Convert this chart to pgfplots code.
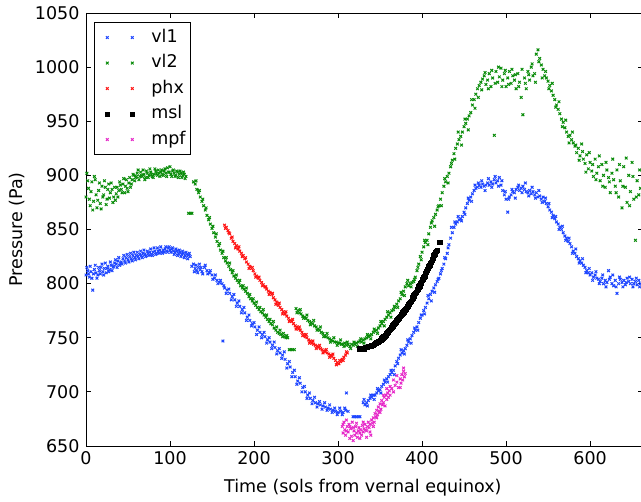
\documentclass[border=0pt]{standalone}
\usepackage{fontspec}
\setmainfont{DejaVu Sans}
\usepackage{pgfplots}
\pgfplotsset{compat=1.18}
\definecolor{cvla}{RGB}{30,70,255}
\definecolor{cvlb}{RGB}{10,140,10}
\definecolor{cphx}{RGB}{255,20,20}
\definecolor{cmpf}{RGB}{230,40,200}
\begin{document}
\begin{tikzpicture}
\path[use as bounding box] (0,0) rectangle (641bp,502bp);
\begin{axis}[
  at={(86bp,56bp)}, anchor=south west,
  scale only axis, width=557bp, height=433bp,
  xmin=0, xmax=663, ymin=650, ymax=1050,
  xtick={0,100,...,600}, ytick={650,700,...,1050},
  /pgf/number format/assume math mode=true,
  /pgf/number format/1000 sep={},
  font=\fontsize{17.5bp}{20bp}\selectfont,
  tick label style={font=\fontsize{17.5bp}{20bp}\selectfont},
  xticklabel style={yshift=-2bp},
  yticklabel style={xshift=-3bp},
  tick align=inside, major tick length=5bp,
  axis line style={line width=0.8bp},
  every tick/.style={black, line width=0.8bp},
  xlabel={Time (sols from vernal equinox)},
  ylabel={Pressure (Pa)},
  xlabel style={at={(axis description cs:0.497,0)}, anchor=center, yshift=-42bp},
  ylabel style={at={(axis description cs:-0.124,0.5)}, anchor=center},
  legend style={at={(rel axis cs:0,1)}, anchor=north west, xshift=8bp, yshift=-9bp,
     draw=black, line width=0.6bp, inner xsep=3bp, inner ysep=5bp, row sep=5bp,
     column sep=0bp,
     nodes={inner sep=2bp, text height=13bp, text depth=3.5bp},
     font=\fontsize{17.5bp}{20bp}\selectfont, cells={anchor=west}},
  legend image code/.code={\path[draw=none, fill=none] (0bp,-2bp) rectangle (52bp,2bp);
     \draw[#1, only marks] plot coordinates {(10bp,0bp) (35bp,0bp)};},
  clip=true,
]
\addplot[only marks, mark=x, mark size=1.9bp, line width=1bp, color=cvla] coordinates {
(0,808) (2,812) (4,806) (6,811) (8,794) (10,813) (12,810) (14,808) (16,812) (18,815) (20,811) (22,814) (24,810) (26,816) (28,813) (30,817) (32,815) (34,819) (36,818) (38,821) (40,817) (42,820) (44,823) (46,821) (48,824) (50,822) (52,825) (54,823) (56,826) (58,824) (60,826) (62,825) (64,827) (66,826) (68,828) (70,827) (72,826) (74,828) (76,829) (78,827) (80,829) (82,830) (84,828) (86,830) (88,831) (90,829) (92,831) (94,832) (96,830) (98,833) (100,831) (102,832) (104,830) (106,829) (108,830) (110,828) (112,829) (114,827) (116,828) (118,826) (120,827) (122,826) (124,825)
(128,818) (130,814) (132,812) (134,815) (136,813) (138,811)
(141,815) (144,812) (147,810) (150,808) (153,805) (156,803) (159,801) (162,800) (163,747) (165,796) (168,794) (171,791) (174,788) (177,785) (180,782) (183,779) (186,776) (189,773) (192,769) (195,766) (198,763) (201,760) (204,757) (207,755) (210,753) (213,751) (216,748) (219,746) (222,743) (225,741) (228,738) (231,736) (234,734) (237,730) (240,726) (243,723) (246,718) (249,714) (252,710) (255,708) (258,704) (261,700) (264,697) (267,694) (270,692) (273,690) (276,689) (279,688) (282,687) (285,686) (288,685) (291,684) (294,683) (297,682) (300,681) (303,682) (306,681) (309,683) (310,699) (312,682)
(318,677) (320,677) (322,677) (324,677) (326,677)
(330,690) (332,688) (334,690) (336,692) (338,694) (340,695) (342,697) (344,697) (346,699) (348,701) (350,702) (352,705) (354,707) (356,709) (358,712) (360,714) (362,716) (364,718) (366,720) (368,724) (370,728) (372,731) (374,734) (376,736) (378,738) (380,740) (382,743) (384,746) (386,749) (388,752) (390,755) (392,757) (394,760) (396,764) (398,768) (400,771) (402,775) (404,778) (406,782) (408,786) (410,790) (412,793) (414,796) (416,799) (418,802) (420,805) (422,809) (424,814) (426,818) (428,823) (430,828) (432,836) (434,842) (436,847) (438,852) (440,855) (442,857) (444,859) (446,860) (448,862) (450,866) (452,870) (454,874) (456,877) (458,880) (460,883) (462,886) (464,888) (466,889) (468,891) (470,889) (472,892) (474,890) (476,891) (478,893) (480,891) (482,894) (484,892) (486,896) (488,893) (490,895) (492,898) (494,891) (496,886) (498,882) (500,878) (502,866) (504,880) (506,882) (508,885) (510,884) (512,887) (514,889) (516,886) (518,888) (520,890) (522,887) (524,885) (526,884) (528,886) (530,883) (532,885) (534,882) (536,884) (538,880) (540,881) (542,878) (544,880) (546,876) (548,874) (550,871) (552,868) (554,866) (556,863) (558,860) (560,857) (562,855) (564,852) (566,850) (568,847) (570,844) (572,842) (574,839) (576,837) (578,834) (580,830) (582,828) (584,825) (586,823) (588,821) (590,819) (592,817) (594,815) (596,812) (598,810) (600,808) (602,810) (604,806) (606,808) (608,805) (610,804) (612,802) (614,805) (616,800) (618,803) (620,801) (622,812) (624,806) (626,800) (628,798) (630,803) (632,791) (634,800) (636,804) (638,801) (640,803) (642,799) (644,805) (646,802) (648,800) (650,804) (652,800) (654,802) (656,799) (658,803) (660,800)
(1,815) (3,809) (5,816) (7,805) (9,809) (11,817) (13,805) (15,815) (17,809) (19,818) (21,808) (23,819) (25,814) (27,811) (29,820) (31,812) (33,816) (35,822) (37,815) (39,824) (41,819) (43,818) (45,826) (47,819) (49,827) (51,820) (53,828) (55,821) (57,829) (59,822) (61,829) (63,823) (65,830) (67,824) (69,831) (71,825) (73,830) (75,826) (77,832) (79,826) (81,833) (83,827) (85,833) (87,828) (89,834) (91,828) (93,829) (95,834) (97,829) (99,834) (101,829) (103,833) (105,827) (107,832) (109,826) (111,831) (113,825) (115,830) (117,824) (119,829) (121,823) (123,828) (126,816) (129,811) (131,817) (133,810) (135,818) (137,815) (139,809) (142,817) (145,809) (148,812) (151,804) (154,808) (157,800) (160,803) (164,798) (167,791) (170,795) (173,785) (176,790) (179,779) (182,784) (185,773) (188,778) (191,766) (194,771) (197,761) (200,764) (203,753) (206,760) (209,750) (212,755) (215,745) (218,750) (221,740) (224,746) (227,735) (230,740) (233,731) (236,737) (239,722) (242,728) (245,714) (248,720) (251,707) (254,713) (257,700) (260,705) (263,694) (266,699) (269,689) (272,695) (275,686) (278,691) (281,684) (284,690) (287,683) (290,688) (293,681) (296,685) (299,679) (302,685) (305,679) (308,685)
(331,693) (335,687) (339,697) (343,693) (347,703) (351,699) (355,711) (359,709) (363,720) (367,716) (371,726) (375,739) (379,735) (383,748) (387,745) (391,759) (395,757) (399,771) (403,772) (407,789) (411,784) (415,792) (419,804) (423,812) (427,824) (431,833) (435,852) (439,857) (443,862) (447,858) (451,864) (455,879) (459,876) (463,891) (467,893) (471,895) (475,886) (479,897) (483,889) (487,899) (491,890) (495,895) (499,885) (503,878) (507,887) (511,879) (515,891) (519,884) (523,893) (527,881) (531,889) (535,879) (539,886) (543,875) (547,879) (551,874) (555,861) (559,862) (563,850) (567,853) (571,840) (575,842) (579,828) (583,832) (587,819) (591,823) (595,810) (599,814) (603,803) (607,811) (611,800) (615,808) (619,797) (623,804) (627,808) (631,797) (635,806) (639,797) (643,801) (647,806) (651,797) (655,805) (659,797)
};
\addlegendentry{vl1}
\addplot[only marks, mark=x, mark size=1.9bp, line width=1bp, color=cvlb] coordinates {
(0,880) (1,902) (3,888) (5,872) (7,894) (9,876) (11,896) (13,870) (15,886) (17,874) (19,890) (21,882) (23,889) (25,878) (27,892) (29,884) (31,887) (33,880) (35,877) (37,889) (39,886) (41,891) (43,884) (45,897) (47,890) (49,888) (51,893) (53,889) (55,896) (57,900) (59,898) (61,902) (63,896) (65,903) (67,899) (69,901) (71,898) (73,902) (75,900) (77,903) (79,899) (81,901) (83,904) (85,900) (87,902) (89,903) (91,901) (93,904) (95,902) (97,907) (99,903) (101,901) (103,904) (105,902) (107,900) (109,903) (111,901) (113,902) (115,900) (117,901) (119,899)
(122,865) (124,865) (126,865)
(128,894) (130,892) (132,887) (134,884) (136,880) (138,876) (140,872) (142,868) (144,863) (146,859) (148,855) (150,851) (152,847) (154,843) (156,839) (158,835) (160,831) (162,828) (164,824) (166,821) (168,819) (170,816) (172,813) (174,810) (176,807) (178,805) (180,803) (182,801) (184,798) (186,796) (188,795) (190,793) (192,791) (194,788) (196,786) (198,784) (200,782) (202,780) (204,778) (206,776) (208,774) (210,773) (212,771) (214,769) (216,767) (218,765) (220,763) (222,762) (224,759) (226,757) (228,755) (230,754) (232,753) (234,751) (236,751) (238,750) (240,750)
(242,739) (244,739) (246,739) (248,739)
(250,777) (252,775) (254,773) (256,772) (258,770) (260,769) (262,768) (264,766) (266,765) (268,764) (270,763) (272,761) (274,760) (276,758) (278,757) (280,755) (282,754) (284,752) (286,751) (288,750) (290,749) (292,748) (294,747) (296,746) (298,746) (300,745) (302,745) (304,744) (306,744) (308,745) (310,743) (312,744) (314,742) (316,744) (318,743) (320,744) (322,745) (324,746) (326,747) (328,746) (330,748) (332,749) (334,750) (336,751) (338,752) (340,753) (342,755) (344,756) (346,757) (348,759) (350,761) (352,763) (354,765) (356,767) (358,769) (360,771) (362,773) (364,775) (366,776) (368,778) (370,781) (372,784) (374,786) (376,790) (378,793) (380,797) (382,800) (384,798) (386,800) (388,801) (390,802) (392,806) (394,812) (396,818) (398,825) (400,829) (402,834) (404,838) (406,840) (408,846) (410,852) (412,858) (414,861) (416,864) (418,868) (420,872) (422,878) (424,884) (426,890) (428,894) (430,899) (432,902) (434,908) (436,914) (438,920) (440,925) (442,929) (444,933) (446,936) (448,940) (450,945) (452,948) (454,952) (456,955) (458,958) (460,965) (462,970) (464,975) (466,980) (468,983) (470,986) (472,989) (474,992) (476,984) (478,988) (480,994) (482,982) (484,990) (486,937) (488,996) (490,986) (492,991) (494,999) (496,988) (498,994) (500,982) (502,990) (504,996) (506,985) (508,992) (510,988) (512,980) (514,994) (516,986) (518,972) (520,956) (522,990) (524,980) (526,996) (528,988) (530,1000) (532,992) (534,994) (536,1012) (538,1016) (540,1008) (542,1002) (544,998) (546,992) (548,990) (550,987) (552,983) (554,978) (556,974) (558,970) (560,965) (562,961) (564,957) (566,952) (568,949) (570,944) (572,940) (574,936) (576,937) (578,933) (580,930) (582,927) (584,921) (586,925) (588,918) (590,929) (592,915) (594,911) (596,919) (598,906) (600,912) (602,904) (604,899) (606,915) (608,902) (610,908) (612,895) (614,910) (616,900) (618,889) (620,905) (622,898) (624,884) (626,902) (628,896) (630,890) (632,905) (634,880) (636,895) (638,870) (640,908) (642,889) (644,875) (646,900) (648,885) (650,912) (652,878) (654,840) (656,895) (658,882) (660,888)
(2,895) (4,878) (6,885) (8,868) (10,899) (12,882) (14,877) (16,893) (18,869) (20,880) (22,895) (24,873) (26,887) (28,879) (30,893) (32,875) (34,889) (36,883) (38,880) (40,894) (42,887) (44,892) (46,884) (48,896) (50,885) (52,898) (54,892) (56,901) (58,895) (60,899) (62,905) (64,899) (66,900) (68,905) (70,896) (72,904) (74,898) (76,906) (78,901) (80,898) (82,906) (84,902) (86,905) (88,899) (90,905) (92,900) (94,906) (96,899) (98,903) (100,908) (102,899) (104,905) (106,899) (108,904) (110,898) (112,904) (114,898) (116,903) (118,897)
(131,895) (135,886) (139,878) (143,870) (147,861) (151,853) (155,846) (159,837) (163,830) (167,824) (171,819) (175,812) (179,808) (183,803) (187,798) (191,796) (195,790) (199,786) (203,783) (207,778) (211,776) (215,771) (219,767) (223,765) (227,760) (231,757) (235,754) (239,752)
(251,773) (255,776) (259,768) (263,771) (267,762) (271,766) (275,757) (279,760) (283,751) (287,754) (291,746) (295,750) (299,743) (303,748) (307,742) (311,746) (315,740) (319,746) (323,742) (327,749) (331,745) (335,753) (339,749) (343,758) (347,754) (351,765) (355,761) (359,774) (363,769) (367,779) (371,778) (375,792) (379,789) (383,803) (387,797) (391,804) (395,815) (399,822) (403,840) (407,836) (411,856) (415,853) (419,871) (423,872) (427,897) (431,893) (435,911) (439,915) (443,940) (447,928) (451,952) (455,942) (459,970) (463,962) (467,972) (471,979) (475,995) (479,980) (483,997) (487,985) (491,1000) (495,982) (499,997) (503,984) (507,998) (511,993) (515,982) (519,998) (523,985) (527,993) (531,1003) (535,986) (539,1005) (543,990) (547,996) (551,980) (555,985) (559,963) (563,968) (567,945) (571,951) (575,930) (579,940) (583,928) (587,914) (591,922) (595,903) (599,921) (603,910) (607,896) (611,918) (615,890) (619,912) (623,894) (627,915) (631,884) (635,910) (639,890) (643,916) (647,872) (651,899) (655,880) (659,905)
};
\addlegendentry{vl2}
\addplot[only marks, mark=x, mark size=1.9bp, line width=1bp, color=cphx] coordinates {
(165,854) (167,852) (169,849) (171,846) (173,842) (175,839) (177,837) (179,835) (181,832) (183,830) (185,828) (187,826) (189,823) (191,820) (193,818) (195,816) (197,814) (199,812) (201,809) (203,807) (205,805) (207,803) (209,801) (211,799) (213,797) (215,795) (217,793) (219,792) (221,790) (223,787) (225,785) (227,783) (229,780) (231,778) (233,776) (235,774) (237,772) (239,770) (241,768) (243,766) (245,765) (247,763) (249,761) (251,760) (253,758) (255,757) (257,755) (259,753) (261,751) (263,750) (265,748) (267,747) (269,745) (271,744) (273,743) (275,742) (277,741) (279,740) (281,739) (283,738) (285,737) (287,736) (289,735) (291,734) (293,733) (295,731) (297,729) (299,727) (301,726) (303,728) (305,730) (307,732) (309,734) (311,736)
(166,851) (170,847) (174,843) (178,833) (182,834) (186,825) (190,824) (194,814) (198,815) (202,806) (206,806) (210,798) (214,797) (218,790) (222,791) (226,781) (230,782) (234,772) (238,774) (242,765) (246,767) (250,758) (254,760) (258,752) (262,753) (266,745) (270,747) (274,740) (278,743) (282,736) (286,739) (290,732) (294,735) (298,725) (302,729) (306,729) (310,737)
};
\addlegendentry{phx}
\addplot[only marks, mark=square*, mark size=2.2bp, color=black] coordinates {
(326,740) (327,740) (328,740) (329,740) (330,740) (331,740) (332,741) (333,741) (334,741) (335,741) (336,742) (337,742) (338,742) (339,742) (340,743) (341,743) (342,743) (343,744) (344,745) (345,745) (346,746) (347,746) (348,747) (349,747) (350,748) (351,748) (352,749) (353,750) (354,751) (355,751) (356,752) (357,753) (358,754) (359,755) (360,756) (361,757) (362,758) (363,759) (364,760) (365,761) (366,762) (367,763) (368,764) (369,765) (370,766) (371,767) (372,768) (373,769) (374,770) (375,771) (376,772) (377,773) (378,774) (379,775) (380,776) (381,777) (382,778) (383,779) (384,781) (385,782) (386,783) (387,784) (388,786) (389,787) (390,789) (391,790) (392,791) (393,792) (394,794) (395,795) (396,797) (397,798) (398,800) (399,801) (400,803) (401,804) (402,806) (403,807) (404,809) (405,811) (406,813) (407,814) (408,816) (409,817) (410,819) (411,820) (412,822) (413,824) (414,826) (415,827) (416,829) (417,830) (418,831) (421,838)
};
\addlegendentry{msl}
\addplot[only marks, mark=x, mark size=1.9bp, line width=1bp, color=cmpf] coordinates {
(305,668) (306,662) (307,672) (308,665) (309,660) (310,674) (311,668) (312,663) (313,670) (314,657) (315,666) (316,659) (317,672) (318,655) (319,664) (320,660) (321,668) (322,662) (323,658) (324,664) (325,667) (326,662) (327,665) (328,660) (329,669) (330,663) (331,666) (332,670) (333,665) (334,658) (335,668) (336,672) (337,667) (338,670) (339,660) (340,674) (341,671) (342,676) (343,672) (344,680) (345,677) (346,683) (347,679) (348,686) (349,682) (350,689) (351,684) (352,692) (353,688) (354,690) (355,695) (356,687) (357,697) (358,693) (359,699) (360,695) (361,701) (362,697) (364,703) (366,700) (368,706) (370,709) (372,704) (374,712) (375,708) (376,716) (377,711) (378,719) (379,714) (380,717)
(306,670) (310,664) (314,668) (318,667) (322,671) (326,657) (330,672) (334,664) (338,663) (342,668) (346,676) (350,681) (354,697) (358,703) (362,705) (366,711) (370,715) (374,704) (378,722)
};
\addlegendentry{mpf}
\end{axis}
\end{tikzpicture}
\end{document}
